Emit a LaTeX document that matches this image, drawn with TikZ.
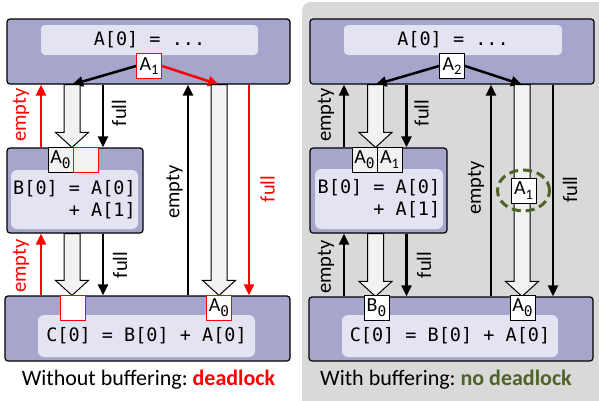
\documentclass[tikz,border=0pt]{standalone}
\usepackage{fontspec}
\setmainfont{Carlito}
\newfontfamily\codefont{DejaVu Sans Mono}
\usetikzlibrary{calc,arrows.meta,positioning}
\definecolor{boxout}{HTML}{A6A6CC}
\definecolor{boxin}{HTML}{E4E3F1}
\definecolor{panel}{HTML}{D9D9D9}
\definecolor{shaft}{HTML}{F2F2F2}
\definecolor{olivegr}{HTML}{4F6228}
\frenchspacing
\newcommand{\Asub}[2]{#1\raisebox{-4.5pt}{\fontsize{14.5}{14.5}\selectfont #2}}
\newcommand{\hollowarrow}[2]{%
  \draw[hollow] ($#1+(-8,0)$) -- ($#2+(-8,-15)$) -- ($#2+(-16.5,-15)$) -- #2
    -- ($#2+(16.5,-15)$) -- ($#2+(8,-15)$) -- ($#1+(8,0)$) -- cycle;}
\begin{document}
\begin{tikzpicture}[x=1pt,y=-1pt,
    box/.style={draw,line width=1.2pt,fill=boxout,rounded corners=3pt,inner sep=0pt},
    inbox/.style={fill=boxin,rounded corners=6pt,inner sep=0pt,align=right,font=\codefont\fontsize{18.5}{22}\selectfont},
    tagbox/.style={draw,line width=1pt,fill=white,minimum size=25pt,inner sep=0pt,font=\fontsize{20}{20}\selectfont},
    arr/.style={line width=2.5pt,-{Triangle[length=11pt,width=10pt]}},
    hollow/.style={draw,line width=1pt,fill=shaft},
    lbl/.style={rotate=90,inner sep=0pt,font=\fontsize{20.5}{20.5}\selectfont},
    caption/.style={inner sep=0pt,font=\fontsize{22}{24}\selectfont}]
  \useasboundingbox (0,0) rectangle (599,400);
  %panel
  \fill[panel,rounded corners=9pt] (302,2) rectangle (614,414);

  %%% without buffering
  %boxes
  \node[box,minimum width=283pt,minimum height=65pt] (topL) at (148.5,51.5) {};
  \node[inbox,minimum width=217pt,minimum height=30pt,rounded corners=4pt] (codeTopL) at (149.5,40) {A[0] = ...};
  \node[box,minimum width=136pt,minimum height=85pt] (midL) at (75,190.5) {};
  \node[inbox,minimum width=127pt,minimum height=59pt] (codeMidL) at (74.5,199.5) {B[0] = A[0]\\+ A[1]};
  \node[box,minimum width=285pt,minimum height=65pt] (botL) at (147.5,328.5) {};
  \node[inbox,minimum width=217pt,minimum height=42pt] (codeBotL) at (146.5,336) {C[0] = B[0] + A[0]};
  %columns
  \coordinate (colEmL) at (41,0);
  \coordinate (colHoL) at (72,0);
  \coordinate (colFuL) at (103,0);
  \coordinate (colEmL2) at (188,0);
  \coordinate (colHoL2) at (219,0);
  \coordinate (colFuL2) at (249,0);
  %channels
  \node[tagbox,draw=red] (tagA1L) at (149,66) {\Asub{A}{1}};
  \draw[arr] (tagA1L.west) -- (topL.south -| colHoL);
  \draw[arr,red] (tagA1L.east) -- (topL.south -| colHoL2);
  \hollowarrow{(topL.south -| colHoL)}{(midL.north -| colHoL)}
  \hollowarrow{(midL.south -| colHoL)}{(botL.north -| colHoL)}
  \hollowarrow{(topL.south -| colHoL2)}{(botL.north -| colHoL2)}
  \draw[arr] (topL.south -| colFuL) -- (midL.north -| colFuL);
  \draw[arr] (midL.south -| colFuL) -- (botL.north -| colFuL);
  \draw[arr,red] (midL.north -| colEmL) -- (topL.south -| colEmL);
  \draw[arr,red] (botL.north -| colEmL) -- (midL.south -| colEmL);
  \draw[arr] (botL.north -| colEmL2) -- (topL.south -| colEmL2);
  \draw[arr,red] (topL.south -| colFuL2) -- (botL.north -| colFuL2);
  %buffers
  \node[tagbox,fill=shaft] (bufA0L) at (60.5,159.5) {\Asub{A}{\codefont 0}};
  \node[tagbox,fill=shaft,draw=red] (bufNoneL) at (85.5,159.5) {};
  \node[tagbox,draw=red] (bufNoneL2) at (72.5,307.5) {};
  \node[tagbox,draw=red] (bufA0L2) at (219,307.5) {\Asub{A}{\codefont 0}};
  %labels
  \node[lbl,red] (lbEmL) at (21,115) {empty};
  \node[lbl] (lbFuL) at (119,113) {full};
  \node[lbl,red] (lbEmL2) at (21,266) {empty};
  \node[lbl] (lbFuL2) at (120,265) {full};
  \node[lbl] (lbEmL3) at (174.5,192) {empty};
  \node[lbl,red] (lbFuL3) at (267.5,189) {full};
  \node[caption] (capL) at (148.5,380) {Without buffering: \textcolor{red}{\textbf{deadlock}}};

  %%% with buffering
  %boxes
  \node[box,minimum width=284pt,minimum height=65pt] (topR) at (452,51.5) {};
  \node[inbox,minimum width=218pt,minimum height=30pt,rounded corners=4pt] (codeTopR) at (453,40) {A[0] = ...};
  \node[box,minimum width=137pt,minimum height=85pt] (midR) at (378.5,190.5) {};
  \node[inbox,minimum width=128pt,minimum height=60pt] (codeMidR) at (379,199) {B[0] = A[0]\\+ A[1]};
  \node[box,minimum width=284pt,minimum height=64pt] (botR) at (451,329) {};
  \node[inbox,minimum width=216pt,minimum height=42pt] (codeBotR) at (450,336) {C[0] = B[0] + A[0]};
  %columns
  \coordinate (colEmR) at (344,0);
  \coordinate (colHoR) at (375.5,0);
  \coordinate (colFuR) at (406.5,0);
  \coordinate (colEmR2) at (491,0);
  \coordinate (colHoR2) at (522,0);
  \coordinate (colFuR2) at (553,0);
  %channels
  \node[tagbox] (tagA2R) at (452,66) {\Asub{A}{2}};
  \draw[arr] (tagA2R.west) -- (topR.south -| colHoR);
  \draw[arr] (tagA2R.east) -- (topR.south -| colHoR2);
  \hollowarrow{(topR.south -| colHoR)}{(midR.north -| colHoR)}
  \hollowarrow{(midR.south -| colHoR)}{(botR.north -| colHoR)}
  \hollowarrow{(topR.south -| colHoR2)}{(botR.north -| colHoR2)}
  \draw[arr] (topR.south -| colFuR) -- (midR.north -| colFuR);
  \draw[arr] (midR.south -| colFuR) -- (botR.north -| colFuR);
  \draw[arr] (midR.north -| colEmR) -- (topR.south -| colEmR);
  \draw[arr] (botR.north -| colEmR) -- (midR.south -| colEmR);
  \draw[arr] (botR.north -| colEmR2) -- (topR.south -| colEmR2);
  \draw[arr] (topR.south -| colFuR2) -- (botR.north -| colFuR2);
  %buffers
  \node[tagbox,fill=shaft] (bufA0R) at (364.5,159.5) {\Asub{A}{\codefont 0}};
  \node[tagbox,fill=shaft] (bufA1R) at (389.5,159.5) {\Asub{A}{1}};
  \node[tagbox] (flyA1R) at (523.5,190.5) {\Asub{A}{1}};
  \draw[olivegr,line width=3pt,dash pattern=on 9pt off 5pt] (flyA1R.center) ellipse [x radius=26pt,y radius=20.5pt];
  \node[tagbox] (bufB0R) at (376.5,307.5) {\Asub{B}{\codefont 0}};
  \node[tagbox] (bufA0R2) at (522.5,307.5) {\Asub{A}{\codefont 0}};
  %labels
  \node[lbl] (lbEmR) at (326,115) {empty};
  \node[lbl] (lbFuR) at (421.5,113) {full};
  \node[lbl] (lbEmR2) at (326,267) {empty};
  \node[lbl] (lbFuR2) at (424,265) {full};
  \node[lbl] (lbEmR3) at (476,188) {empty};
  \node[lbl] (lbFuR3) at (570,189.5) {full};
  \node[caption] (capR) at (446,380) {With buffering: \textcolor{olivegr}{\textbf{no deadlock}}};
\end{tikzpicture}
\end{document}
